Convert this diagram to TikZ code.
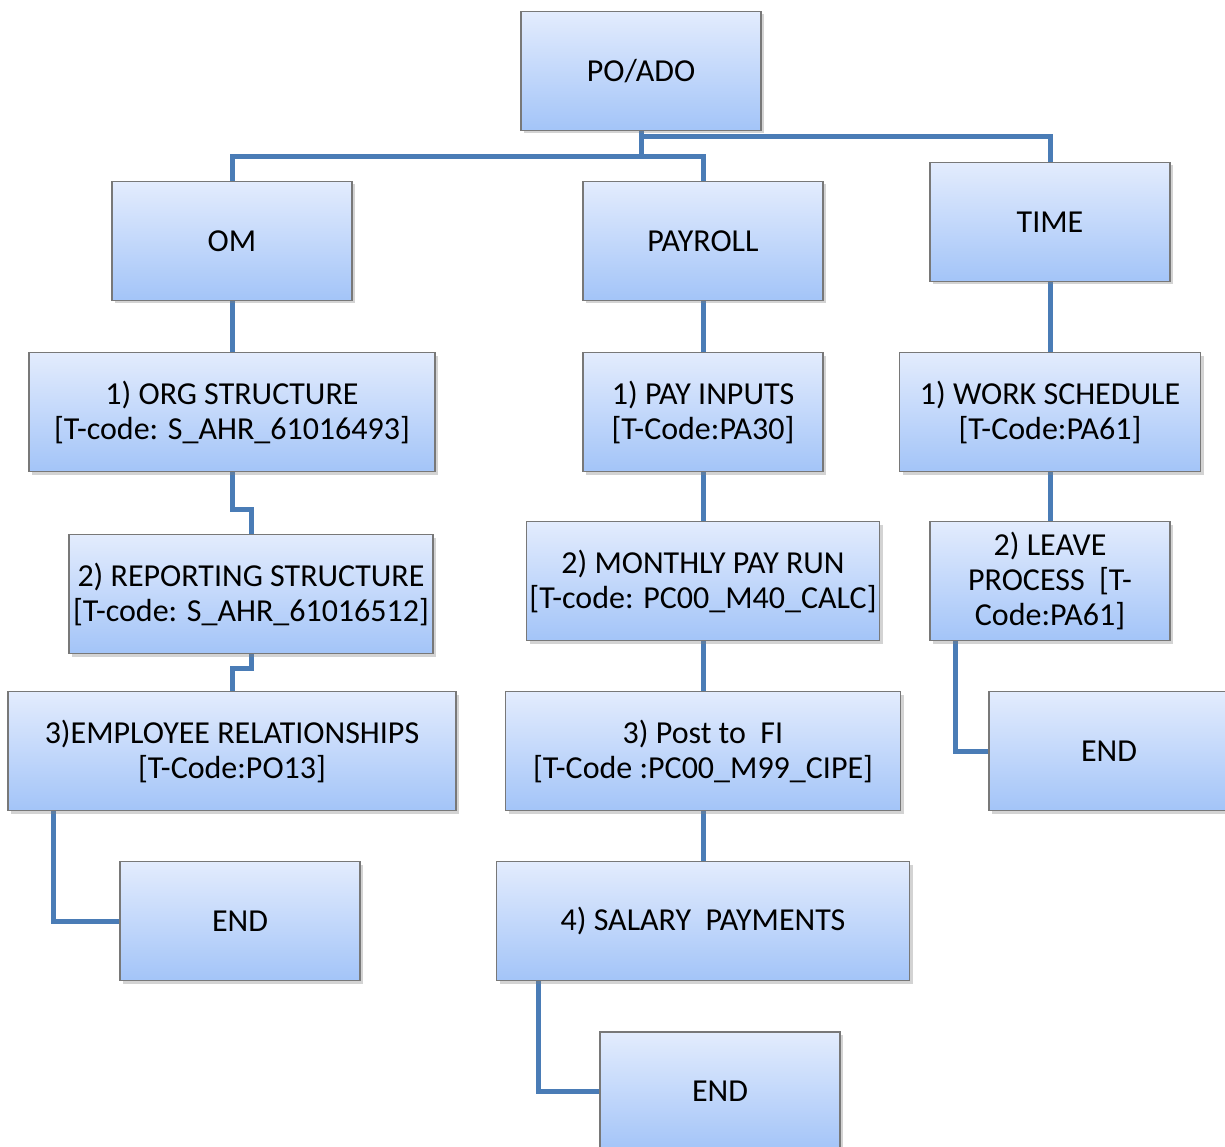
\documentclass[tikz,border=0pt]{standalone}
\usepackage{fontspec}
\setmainfont{Carlito}
\usetikzlibrary{shadows,backgrounds}
\definecolor{boxtop}{RGB}{227,236,253}
\definecolor{boxbot}{RGB}{163,196,248}
\definecolor{boxline}{RGB}{120,120,120}
\definecolor{conncol}{RGB}{74,124,182}
\tikzset{
  box/.style={draw=boxline, line width=1.2pt, top color=boxtop, bottom color=boxbot,
    minimum height=119pt, inner sep=0pt, align=center, text=black,
    font=\fontsize{32}{35}\selectfont,
    drop shadow={opacity=0.35, shadow xshift=3pt, shadow yshift=-3pt}},
  conn/.style={draw=conncol, line width=5pt}
}
\begin{document}
\begin{tikzpicture}[x=1pt,y=-1pt]
\useasboundingbox (0,0) rectangle (1225,1147);
% nodes
\node[box, minimum width=240pt] (po) at (641,71) {PO/ADO};
\node[box, minimum width=240pt] (om) at (232,241) {OM};
\node[box, minimum width=240pt] (pay) at (703,241) {PAYROLL};
\node[box, minimum width=240pt] (time) at (1050,222) {TIME};
\node[box, minimum width=406pt] (org) at (232,412) {1) ORG STRUCTURE\\{}[T-code: S\_AHR\_61016493]};
\node[box, minimum width=240pt] (pin) at (703,412) {1) PAY INPUTS\\{}[T-Code:PA30]};
\node[box, minimum width=301pt] (work) at (1050,412) {1) WORK SCHEDULE\\{}[T-Code:PA61]};
\node[box, minimum width=364pt] (rep) at (251,594) {2) REPORTING STRUCTURE\\{}[T-code: S\_AHR\_61016512]};
\node[box, minimum width=353pt] (mpr) at (703,581) {2) MONTHLY PAY RUN\\{}[T-code: PC00\_M40\_CALC]};
\node[box, minimum width=240pt] (leave) at (1050,581) {2) LEAVE\\PROCESS~~[T-\\Code:PA61]};
\node[box, minimum width=448pt] (emp) at (232,751) {3)EMPLOYEE RELATIONSHIPS\\{}[T-Code:PO13]};
\node[box, minimum width=395pt] (fi) at (703,751) {3) Post to~~FI\\{}[T-Code :PC00\_M99\_CIPE]};
\node[box, minimum width=240pt] (end1) at (240,921) {END};
\node[box, minimum width=413pt] (sal) at (703,921) {4) SALARY~~PAYMENTS};
\node[box, minimum width=240pt] (end2) at (720,1091.5) {END};
\node[box, minimum width=240pt] (end3) at (1109,751) {END};
% junctions
\coordinate (j1) at (641,157);
\coordinate (j2) at (641,137);
\coordinate (j3) at (232,509);
\coordinate (j4) at (251,668);
\coordinate (c1) at (53,811);
\coordinate (c2) at (538,981);
\coordinate (c3) at (955,641);
% connectors
\begin{scope}[on background layer]
\draw[conn] (po.south) -- (j1) -| (om.north);
\draw[conn] (j1) -| (pay.north);
\draw[conn] (j2) -| (time.north);
\draw[conn] (om.south) -- (org.north);
\draw[conn] (org.south) -- (j3) -| (rep.north);
\draw[conn] (rep.south) -- (j4) -| (emp.north);
\draw[conn] (c1) |- (end1.west);
\draw[conn] (pay.south) -- (pin.north);
\draw[conn] (pin.south) -- (mpr.north);
\draw[conn] (mpr.south) -- (fi.north);
\draw[conn] (fi.south) -- (sal.north);
\draw[conn] (c2) |- (end2.west);
\draw[conn] (time.south) -- (work.north);
\draw[conn] (work.south) -- (leave.north);
\draw[conn] (c3) |- (end3.west);
\end{scope}
\end{tikzpicture}
\end{document}
